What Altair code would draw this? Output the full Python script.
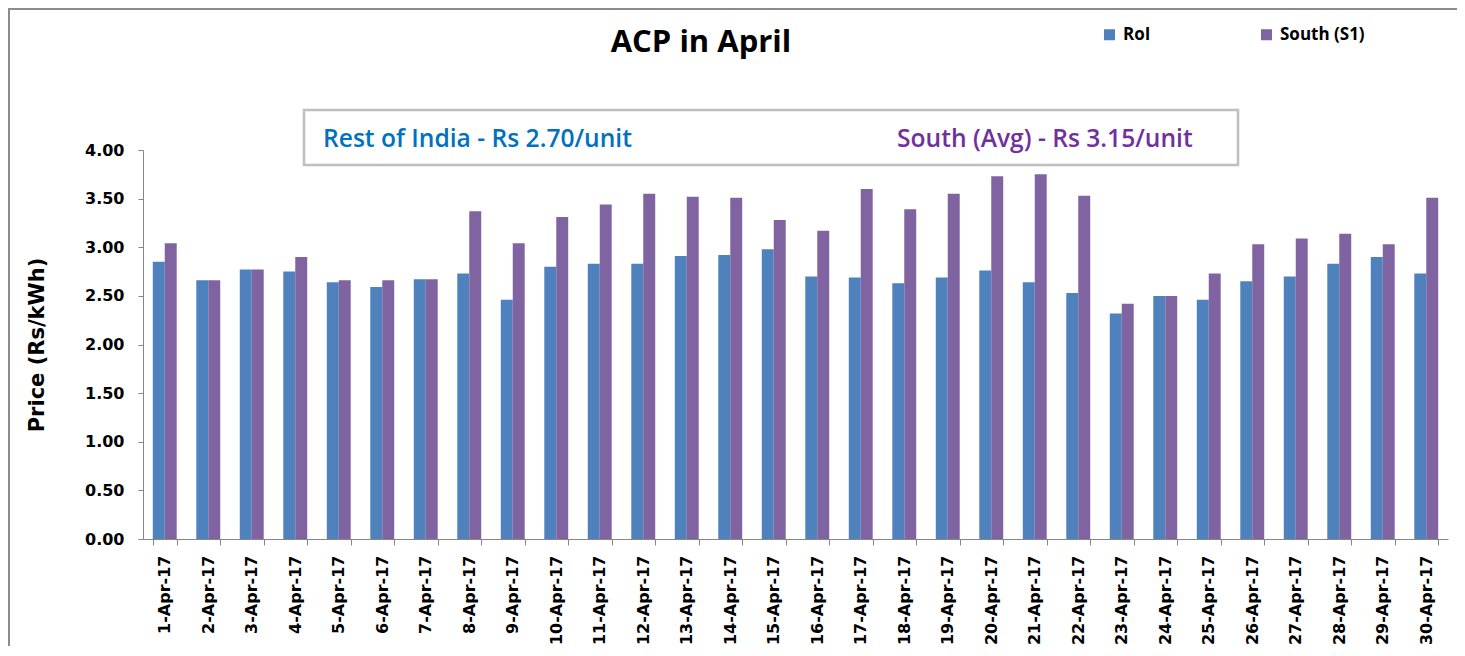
import altair as alt
import pandas as pd

dates = [f"{d}-Apr-17" for d in range(1, 31)]
roi = [2.85, 2.66, 2.77, 2.75, 2.64, 2.59, 2.67, 2.73, 2.46, 2.80,
       2.83, 2.83, 2.91, 2.92, 2.98, 2.70, 2.69, 2.63, 2.69, 2.76,
       2.64, 2.53, 2.32, 2.50, 2.46, 2.65, 2.70, 2.83, 2.90, 2.73]
south = [3.04, 2.66, 2.77, 2.90, 2.66, 2.66, 2.67, 3.37, 3.04, 3.31,
         3.44, 3.55, 3.52, 3.51, 3.28, 3.17, 3.60, 3.39, 3.55, 3.73,
         3.75, 3.53, 2.42, 2.50, 2.73, 3.03, 3.09, 3.14, 3.03, 3.51]
series = ["RoI", "South (S1)"]
colors = ["#4F81BD", "#8064A2"]
y_ticks = [0, 0.5, 1.0, 1.5, 2.0, 2.5, 3.0, 3.5, 4.0]

title_text = "ACP in April"
box_left = "Rest of India - Rs 2.70/unit"
box_right = "South (Avg) - Rs 3.15/unit"
y_title = "Price (Rs/kWh)"

rows = []
for d, a, b in zip(dates, roi, south):
    rows.append({"date": d, "series": series[0], "value": a})
    rows.append({"date": d, "series": series[1], "value": b})
df = pd.DataFrame(rows)

AXIS_FONT = "DejaVu Sans"
GREY = "#868686"

bars = alt.Chart(df).mark_bar().encode(
    x=alt.X("date:N", sort=dates,
            scale=alt.Scale(paddingInner=0.45, paddingOuter=0.225),
            axis=alt.Axis(title=None, labelAngle=-90, labelFont=AXIS_FONT,
                          labelFontSize=16, labelFontWeight="bold", labelColor="black",
                          labelPadding=10, tickSize=6, tickColor=GREY, domainColor=GREY,
                          tickBand="extent", labelOverlap=False)),
    xOffset=alt.XOffset("series:N", sort=series),
    y=alt.Y("value:Q", scale=alt.Scale(domain=[0, 4], nice=False),
            axis=alt.Axis(title=y_title, values=y_ticks, format=".2f", grid=False,
                          labelFont=AXIS_FONT, labelFontSize=16, labelFontWeight="bold",
                          labelColor="black", labelPadding=14, tickSize=5,
                          tickColor=GREY, domainColor=GREY,
                          titleFont=AXIS_FONT, titleFontSize=21, titleFontWeight="bold",
                          titleColor="black", titlePadding=37)),
    color=alt.Color("series:N", scale=alt.Scale(domain=series, range=colors),
                    legend=alt.Legend(title=None, orient="none", legendX=958, legendY=-124,
                                      direction="horizontal", columns=2,
                                      symbolType="square", symbolSize=121,
                                      symbolStrokeWidth=0, labelOffset=5,
                                      columnPadding=107, labelFont="Open Sans",
                                      labelFontSize=17, labelFontWeight="bold",
                                      labelColor="black")),
)

one = pd.DataFrame({"k": [0]})

frame_top = alt.Chart(one).mark_rule(color="#8C8C8C", strokeWidth=2).encode(
    x=alt.value(-143), x2=alt.value(1320), y=alt.value(-141))
frame_left = alt.Chart(one).mark_rule(color="#8C8C8C", strokeWidth=2).encode(
    x=alt.value(-134), y=alt.value(-141), y2=alt.value(520))

box = alt.Chart(one).mark_rect(fill="white", stroke="#BFBFBF", strokeWidth=2.5).encode(
    x=alt.value(161), x2=alt.value(1095), y=alt.value(-40), y2=alt.value(15))

txt_left = alt.Chart(pd.DataFrame({"t": [box_left]})).mark_text(
    align="left", baseline="middle", font="Open Sans", fontSize=24.6, fontWeight=600,
    color="#0070C0"
).encode(x=alt.value(180), y=alt.value(-10), text="t:N")

txt_right = alt.Chart(pd.DataFrame({"t": [box_right]})).mark_text(
    align="left", baseline="middle", font="Open Sans", fontSize=24.6, fontWeight=600,
    color="#7030A0"
).encode(x=alt.value(754), y=alt.value(-10), text="t:N")

title = alt.Chart(pd.DataFrame({"t": [title_text]})).mark_text(
    align="center", baseline="alphabetic", font="Open Sans", fontSize=31,
    fontWeight="bold", color="black"
).encode(x=alt.value(558), y=alt.value(-98), text="t:N")

chart = alt.layer(frame_top, frame_left, box, bars, txt_left, txt_right, title).properties(
    width=1305, height=389,
    background="white",
    autosize=alt.AutoSizeParams(type="none"),
    padding={"left": 135, "top": 142, "right": 9, "bottom": 107},
).configure_view(strokeWidth=0)

chart.save("out.html", embed_options={"renderer": "svg", "actions": False})
